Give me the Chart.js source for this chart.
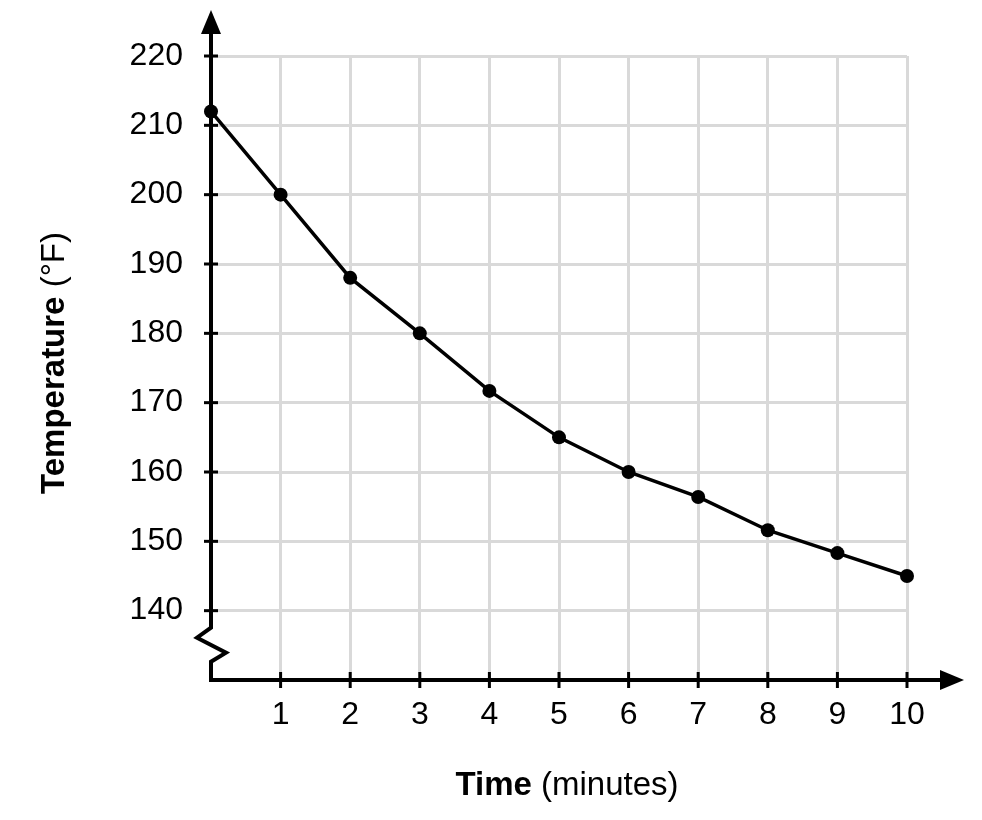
<!DOCTYPE html>
<html>
<head>
<meta charset="utf-8">
<title>Temperature vs Time</title>
<script src="https://cdn.jsdelivr.net/npm/chart.js@4.4.1/dist/chart.umd.min.js"></script>
<style>
  html, body { margin: 0; padding: 0; background: #ffffff; }
  #wrap { width: 982px; height: 820px; position: relative; }
</style>
</head>
<body>
<div id="wrap"><canvas id="coolingChart"></canvas></div>
<script>
// Dados
const minutes = [0, 1, 2, 3, 4, 5, 6, 7, 8, 9, 10];
const temperatures = [212, 200, 188, 180, 171.7, 165, 160, 156.4, 151.6, 148.3, 145];
const xTicks = [1, 2, 3, 4, 5, 6, 7, 8, 9, 10];
const yTicks = [140, 150, 160, 170, 180, 190, 200, 210, 220];

const FONT = "'Liberation Sans', Arial, Helvetica, sans-serif";
const GRID_COLOR = "#d9d9d9";
const INK = "#000000";

/**
 * Desenha eixos com setas, marcas, quebra do eixo y e títulos com partes em negrito.
 */
const axesPlugin = {
  id: "axesPlugin",
  beforeDatasetsDraw(chart) {
    const { ctx } = chart;
    const xs = chart.scales.x;
    const ys = chart.scales.y;
    const x0 = xs.getPixelForValue(0);
    const yBase = ys.getPixelForValue(130);
    const y140 = ys.getPixelForValue(140);

    ctx.save();
    ctx.strokeStyle = INK;
    ctx.fillStyle = INK;
    ctx.lineCap = "butt";
    ctx.lineJoin = "miter";

    // eixo y com quebra
    ctx.lineWidth = 4;
    ctx.beginPath();
    ctx.moveTo(x0, 32);
    ctx.lineTo(x0, y140 + 17);
    ctx.lineTo(x0 - 14, y140 + 27);
    ctx.lineTo(x0 + 15, y140 + 42);
    ctx.lineTo(x0, y140 + 51);
    ctx.lineTo(x0, yBase + 2);
    ctx.stroke();

    // eixo x
    ctx.beginPath();
    ctx.moveTo(x0 - 2, yBase);
    ctx.lineTo(942, yBase);
    ctx.stroke();

    // setas
    ctx.beginPath();
    ctx.moveTo(x0, 10);
    ctx.lineTo(x0 - 10, 34);
    ctx.lineTo(x0 + 10, 34);
    ctx.closePath();
    ctx.fill();

    ctx.beginPath();
    ctx.moveTo(964, yBase);
    ctx.lineTo(940, yBase - 10);
    ctx.lineTo(940, yBase + 10);
    ctx.closePath();
    ctx.fill();

    // marcas
    ctx.lineWidth = 3;
    yTicks.forEach((v) => {
      const py = ys.getPixelForValue(v);
      ctx.beginPath();
      ctx.moveTo(x0 - 7, py);
      ctx.lineTo(x0 + 7, py);
      ctx.stroke();
    });
    xTicks.forEach((v) => {
      const px = xs.getPixelForValue(v);
      ctx.beginPath();
      ctx.moveTo(px, yBase - 8);
      ctx.lineTo(px, yBase + 8);
      ctx.stroke();
    });

    // títulos (parte em negrito + parte normal)
    drawMixedTitle(ctx, "Time", " (minutes)", 567, 795, 0);
    drawMixedTitle(ctx, "Temperature", " (°F)", 64, 363, -Math.PI / 2);

    ctx.restore();
  },
};

function drawMixedTitle(ctx, boldPart, normalPart, cx, cy, angle) {
  const size = 33;
  ctx.save();
  ctx.translate(cx, cy);
  ctx.rotate(angle);
  ctx.textBaseline = "alphabetic";
  ctx.textAlign = "left";
  ctx.font = `bold ${size}px ${FONT}`;
  const wBold = ctx.measureText(boldPart).width;
  ctx.font = `${size}px ${FONT}`;
  const wNormal = ctx.measureText(normalPart).width;
  const start = -(wBold + wNormal) / 2;
  ctx.font = `bold ${size}px ${FONT}`;
  ctx.fillText(boldPart, start, 0);
  ctx.font = `${size}px ${FONT}`;
  ctx.fillText(normalPart, start + wBold, 0);
  ctx.restore();
}

function initChart() {
  const ctx = document.getElementById("coolingChart");

  new Chart(ctx, {
    type: "line",
    data: {
      labels: minutes,
      datasets: [
        {
          label: "Temperature",
          data: minutes.map((m, i) => ({ x: m, y: temperatures[i] })),
          borderColor: INK,
          backgroundColor: INK,
          borderWidth: 3.5,
          tension: 0,
          pointRadius: 7,
          pointHoverRadius: 7,
          pointBackgroundColor: INK,
          pointBorderWidth: 0,
          clip: false,
        },
      ],
    },
    options: {
      responsive: true,
      maintainAspectRatio: false,
      animation: false,
      layout: { padding: { left: 0, top: 56, right: 75, bottom: 0 } },
      plugins: {
        legend: { display: false },
        tooltip: { enabled: false },
      },
      scales: {
        x: {
          type: "linear",
          min: 0,
          max: 10,
          afterFit: (scale) => { scale.height = 140; },
          border: { display: false },
          grid: {
            color: (c) => (c.tick && c.tick.value === 0 ? "transparent" : GRID_COLOR),
            lineWidth: 3,
            drawTicks: false,
          },
          ticks: {
            stepSize: 1,
            padding: 16,
            color: INK,
            font: { family: FONT, size: 32 },
            callback: (v) => (xTicks.includes(v) ? String(v) : ""),
          },
        },
        y: {
          min: 130,
          max: 220,
          afterFit: (scale) => { scale.width = 211; },
          border: { display: false },
          grid: {
            color: (c) => (c.tick && c.tick.value === 130 ? "transparent" : GRID_COLOR),
            lineWidth: 3,
            drawTicks: false,
          },
          ticks: {
            stepSize: 10,
            padding: 28,
            color: INK,
            font: { family: FONT, size: 32 },
            callback: (v) => (yTicks.includes(v) ? String(v) : ""),
          },
        },
      },
    },
    plugins: [axesPlugin],
  });
}

initChart();
</script>
</body>
</html>
